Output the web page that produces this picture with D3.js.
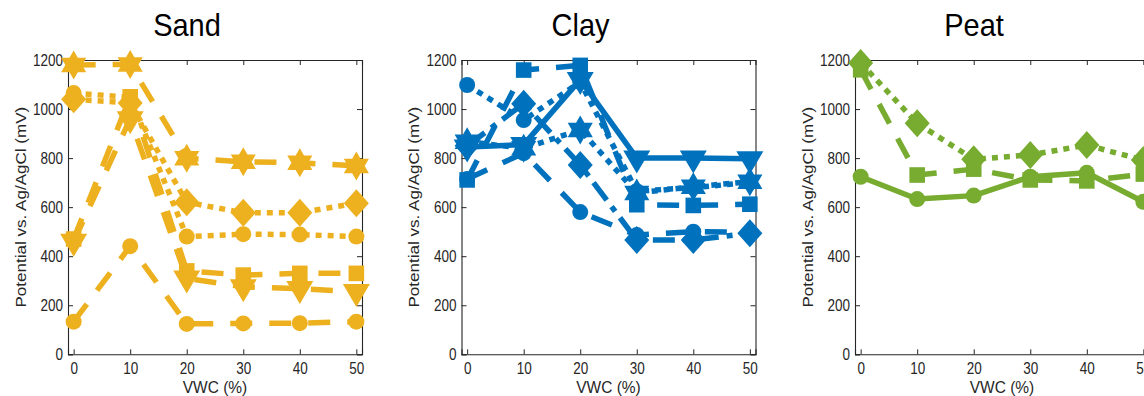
<!DOCTYPE html>
<html>
<head>
<meta charset="utf-8">
<script src="https://cdn.jsdelivr.net/npm/d3@7"></script>
<style>
  html, body { margin: 0; padding: 0; background: #fff; }
  svg { display: block; }
</style>
</head>
<body>
<div id="chart"></div>
<script>
// Electrode potential vs. volumetric water content for three soils
const vwc = [0, 10, 20, 30, 40, 50];
const xTickValues = [0, 10, 20, 30, 40, 50];
const yTickValues = [0, 200, 400, 600, 800, 1000, 1200];
const panelTitles = ["Sand", "Clay", "Peat"];
const panelColors = ["#EDB120", "#0072BD", "#77AC30"];
const xLabel = "VWC (%)";
const yLabel = "Potential vs. Ag/AgCl (mV)";

// Sand
const sandCircleDashed = [133, 441, 124, 126, 127, 133];
const sandCircleDotted = [1065, 1048, 480, 490, 488, 480];
const sandDiamond = [1040, 1025, 620, 577, 577, 616];
const sandHexagram = [1180, 1182, 799, 785, 781, 768];
const sandSquare = [470, 1050, 340, 323, 330, 330];
const sandTriangle = [460, 960, 310, 275, 268, 255];

// Clay
const clayCircleDashed = [715, 820, 580, 486, 500, 497];
const clayCircleDotted = [1098, 955, 1110, 665, 680, 700];
const clayDiamond = [850, 1022, 772, 466, 466, 494];
const claySquare = [711, 1159, 1178, 610, 607, 612];
const clayHexagram = [867, 840, 915, 658, 683, 704];
const clayTriangle = [845, 855, 1120, 800, 800, 797];

// Peat
const peatCircle = [724, 633, 647, 724, 740, 622];
const peatSquare = [1160, 731, 755, 711, 707, 735];
const peatDiamond = [1188, 942, 795, 813, 853, 792];

const panels = [
  [
    { values: sandCircleDashed, marker: "circle", dash: "dashed" },
    { values: sandCircleDotted, marker: "circle", dash: "dotted" },
    { values: sandDiamond, marker: "diamond", dash: "dotted" },
    { values: sandHexagram, marker: "hexagram", dash: "dashed" },
    { values: sandSquare, marker: "square", dash: "dashed" },
    { values: sandTriangle, marker: "triangleDown", dash: "dashed" }
  ],
  [
    { values: clayCircleDashed, marker: "circle", dash: "dashed" },
    { values: clayCircleDotted, marker: "circle", dash: "dotted" },
    { values: clayDiamond, marker: "diamond", dash: "dashdot" },
    { values: claySquare, marker: "square", dash: "dashed" },
    { values: clayHexagram, marker: "hexagram", dash: "dotted" },
    { values: clayTriangle, marker: "triangleDown", dash: "solid" }
  ],
  [
    { values: peatCircle, marker: "circle", dash: "solid" },
    { values: peatSquare, marker: "square", dash: "dashed" },
    { values: peatDiamond, marker: "diamond", dash: "dotted" }
  ]
];

const W = 1144, H = 396;
const FONT = "'Liberation Sans', Arial, Helvetica, sans-serif";
const AXIS = "#262626";
const dashArrays = { solid: null, dashed: "22,17", dotted: "6,6", dashdot: "22,8,6,8" };

// Marker outlines (centred on the data point)
function markerPath(type) {
  const p = d3.path();
  if (type === "circle") {
    p.arc(0, 0, 8, 0, 2 * Math.PI);
  } else if (type === "square") {
    p.rect(-7.8, -7.8, 15.6, 15.6);
  } else if (type === "diamond") {
    p.moveTo(0, -14); p.lineTo(12.5, 0); p.lineTo(0, 14); p.lineTo(-12.5, 0); p.closePath();
  } else if (type === "hexagram") {
    const R = 14.5, r = R / Math.sqrt(3);
    for (let i = 0; i < 12; i++) {
      const a = -Math.PI / 2 + i * Math.PI / 6;
      const rad = i % 2 === 0 ? R : r;
      const x = rad * Math.cos(a), y = rad * Math.sin(a);
      if (i === 0) p.moveTo(x, y); else p.lineTo(x, y);
    }
    p.closePath();
  } else if (type === "triangleDown") {
    const w = 13.5, h = 23;
    p.moveTo(-w, -h / 3); p.lineTo(w, -h / 3); p.lineTo(0, 2 * h / 3); p.closePath();
  }
  return p.toString();
}

const svg = d3.select("#chart").append("svg")
  .attr("width", W).attr("height", H)
  .attr("viewBox", `0 0 ${W} ${H}`);

const plotTop = 60, plotBottom = 354.3, plotWidth = 294;
const TICK_FS = 13.5, TICK_K = 1.2;
const LABEL_FS = 15.5, LABEL_K = 1.1;
const TITLE_FS = 29, TITLE_K = 1.08;

panels.forEach((series, i) => {
  const left = 68 + i * 393.5;
  const right = left + plotWidth;
  const x = d3.scaleLinear().domain([-1, 51]).range([left, right]);
  const y = d3.scaleLinear().domain([0, 1200]).range([plotBottom, plotTop]);
  const color = panelColors[i];
  const g = svg.append("g");

  // Axes: bottom/left carry labels, top/right only ticks (all ticks inward)
  const fmt = d3.format("d");
  const axB = g.append("g").attr("transform", `translate(0,${plotBottom})`)
    .call(d3.axisBottom(x).tickValues(xTickValues).tickSize(-5).tickPadding(0).tickFormat(fmt));
  const axT = g.append("g").attr("transform", `translate(0,${plotTop})`)
    .call(d3.axisTop(x).tickValues(xTickValues).tickSize(-5).tickFormat(""));
  const axL = g.append("g").attr("transform", `translate(${left},0)`)
    .call(d3.axisLeft(y).tickValues(yTickValues).tickSize(-5).tickPadding(0).tickFormat(fmt));
  const axR = g.append("g").attr("transform", `translate(${right},0)`)
    .call(d3.axisRight(y).tickValues(yTickValues).tickSize(-5).tickFormat(""));

  [axB, axT, axL, axR].forEach(ax => {
    ax.select(".domain").attr("stroke", AXIS).attr("stroke-width", 1.1);
    ax.selectAll(".tick line").attr("stroke", AXIS).attr("stroke-width", 1);
  });
  axT.selectAll(".tick text").remove();
  axR.selectAll(".tick text").remove();

  // Tick labels, drawn slightly taller than wide
  axB.selectAll(".tick text").each(function () {
    const t = d3.select(this);
    t.attr("y", null).attr("dy", null)
      .attr("transform", `translate(0,${368.5 - plotBottom}) scale(1,${TICK_K})`)
      .attr("dominant-baseline", "central")
      .attr("text-anchor", "middle");
  });
  axL.selectAll(".tick text").each(function () {
    const t = d3.select(this);
    t.attr("x", null).attr("dy", null)
      .attr("transform", `translate(-5,0) scale(1,${TICK_K})`)
      .attr("dominant-baseline", "central")
      .attr("text-anchor", "end");
  });
  g.selectAll(".tick text")
    .attr("fill", AXIS).attr("font-family", FONT).attr("font-size", TICK_FS);

  // Data lines then markers, series by series
  series.forEach(s => {
    const pts = vwc.map((v, k) => [x(v), y(s.values[k])]);
    const sg = g.append("g");
    sg.append("path")
      .attr("d", d3.line()(pts))
      .attr("fill", "none")
      .attr("stroke", color)
      .attr("stroke-width", 5.5)
      .attr("stroke-linejoin", "round")
      .attr("stroke-dasharray", dashArrays[s.dash]);
    const mp = markerPath(s.marker);
    sg.selectAll("path.mk").data(pts).join("path")
      .attr("class", "mk")
      .attr("d", mp)
      .attr("transform", d => `translate(${d[0]},${d[1]})`)
      .attr("fill", color);
  });

  // Axis titles
  g.append("text")
    .attr("transform", `translate(${(left + right) / 2},386.5) scale(1,${LABEL_K})`)
    .attr("text-anchor", "middle").attr("dominant-baseline", "central")
    .attr("font-family", FONT).attr("font-size", LABEL_FS).attr("fill", AXIS)
    .text(xLabel);
  g.append("text")
    .attr("transform", `translate(${left - 48},${(plotTop + plotBottom) / 2}) scale(1,${LABEL_K}) rotate(-90)`)
    .attr("text-anchor", "middle").attr("dominant-baseline", "central")
    .attr("font-family", FONT).attr("font-size", LABEL_FS).attr("fill", AXIS)
    .text(yLabel);

  // Panel title
  g.append("text")
    .attr("transform", `translate(${left + 119},25) scale(1,${TITLE_K})`)
    .attr("text-anchor", "middle").attr("dominant-baseline", "central")
    .attr("font-family", FONT).attr("font-size", TITLE_FS).attr("fill", "#000")
    .text(panelTitles[i]);
});
</script>
</body>
</html>
